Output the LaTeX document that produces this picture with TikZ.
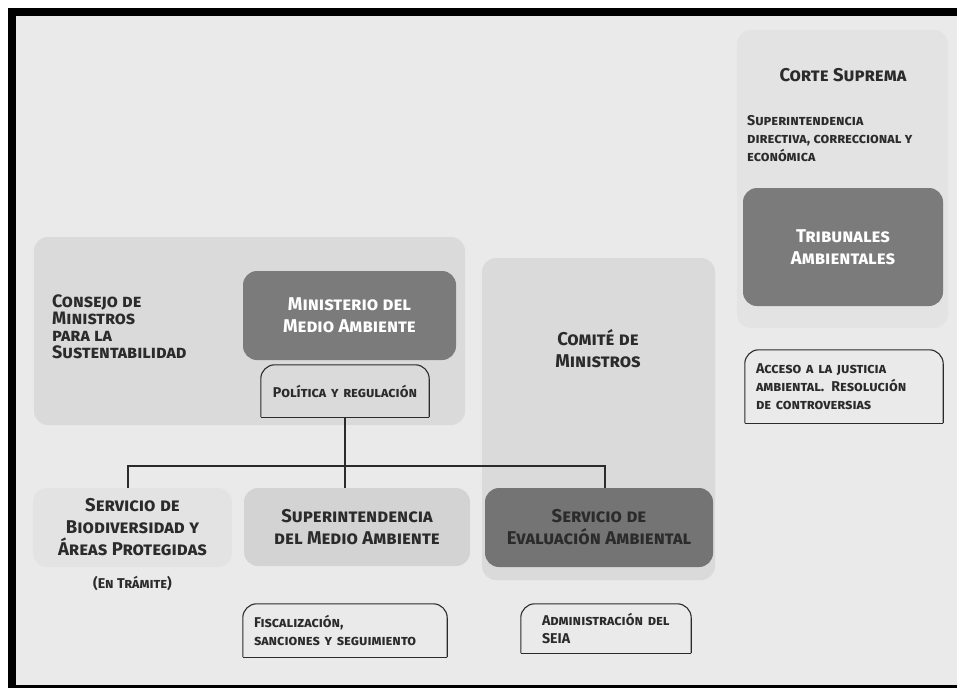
\documentclass[tikz,border=0pt]{standalone}
\usepackage{fontspec}
\setmainfont{Fira Sans}
\usetikzlibrary{positioning}
\definecolor{pagegray}{HTML}{EAEAEA}
\definecolor{palegray}{HTML}{E3E3E3}
\definecolor{groupgray}{HTML}{DADADA}
\definecolor{midgray}{HTML}{D3D3D3}
\definecolor{darkgray}{HTML}{7B7B7B}
\definecolor{inkgray}{HTML}{2B2B2B}

\begin{document}
\begin{tikzpicture}[x=1pt,y=-1pt]
	\newcommand\bigtext{\fontsize{18.5}{22}\selectfont\bfseries\scshape}
	\newcommand\smalltext{\fontsize{14.2}{18}\selectfont\bfseries\scshape}
	\newcommand\drawnote[1]{%
		\draw[noteline, rounded corners=14pt] (#1.south west) -- (#1.north west) -- (#1.north east) -- (#1.south east);
		\draw[noteline] (#1.south west) -- (#1.south east);}
	\tikzset{
		every node/.style = {text=inkgray, inner sep=0pt},
		groupbox/.style = {fill=#1, rounded corners=14pt},
		unitbox/.style = {fill=#1, rounded corners=14pt, align=center, font=\bigtext},
		notebox/.style = {align=left, font=\smalltext, inner xsep=11pt},
		noteline/.style = {draw=inkgray, line width=1.1pt},
		wire/.style = {draw=inkgray, line width=1.1pt},
	}
	\useasboundingbox (0,0) rectangle (957,688);
	% frame
	\fill[black] (8,8) rectangle (957,688);
	\fill[pagegray] (16,16) rectangle (957,685);

	% groups
	\node[groupbox=palegray, minimum width=211pt, minimum height=298pt] (corte) at (842.5,179) {};
	\node[groupbox=groupgray, minimum width=431pt, minimum height=188pt] (consejo) at (249.5,331) {};
	\node[groupbox=groupgray, minimum width=233pt, minimum height=322pt] (comite) at (598.5,419) {};

	% group titles
	\node[font=\bigtext] (corteT) at (843,75) {Corte Suprema};
	\node[anchor=west, align=left, font=\smalltext] (corteS) at (747,139) {Superintendencia\\directiva, correccional y\\económica};
	\node[anchor=west, align=left, font=\fontsize{18}{17}\selectfont\bfseries\scshape] (consejoT) at (52,327) {Consejo de\\Ministros\\para la\\Sustentabilidad};
	\node[font=\bigtext, align=center] (comiteT) at (598,349) {Comité de\\Ministros};

	% units
	\node[unitbox=darkgray, text=white, minimum width=200pt, minimum height=118pt] (trib) at (843,247) {Tribunales\\Ambientales};
	\node[unitbox=darkgray, text=white, minimum width=213pt, minimum height=89pt] (minis) at (349.5,315.5) {Ministerio del\\Medio Ambiente};
	\node[unitbox=palegray, minimum width=199pt, minimum height=79pt] (bio) at (132.5,527.5) {Servicio de\\Biodiversidad y\\Áreas Protegidas};
	\node[unitbox=midgray, minimum width=226pt, minimum height=78pt] (sup) at (357,527) {Superintendencia\\del Medio Ambiente};
	\node[unitbox=darkgray!105, minimum width=228pt, minimum height=79pt] (sea) at (599,527.5) {Servicio de\\Evaluación Ambiental};
	\node[font=\smalltext, below=9pt of bio] (tramite) {(En Trámite)};

	% notes
	\node[notebox, text width=176pt, minimum height=73pt] (acceso) at (844,386.5) {Acceso a la justicia\\ambiental. Resolución\\de controversias};
	\node[notebox, align=center, text width=146pt, minimum height=52pt] (pol) at (345,391) {\raisebox{-4pt}{Política y regulación}};
	\node[notebox, text width=182pt, minimum height=53pt] (fisc) at (345,630.5) {Fiscalización,\\sanciones y seguimiento};
	\node[notebox, inner xsep=21pt, text width=128pt, minimum height=49pt] (admin) at (606,628.5) {Administración del\\SEIA};
	\foreach \n in {acceso,pol,fisc,admin}
		\drawnote{\n};

	% connectors
	\coordinate (bus) at (345,466);
	\draw[wire] (pol.south) -- (pol.south |- sup.north);
	\draw[wire] ([xshift=-4.5pt]bio.north) |- (bus) -| ([xshift=6pt]sea.north);
\end{tikzpicture}
\end{document}
